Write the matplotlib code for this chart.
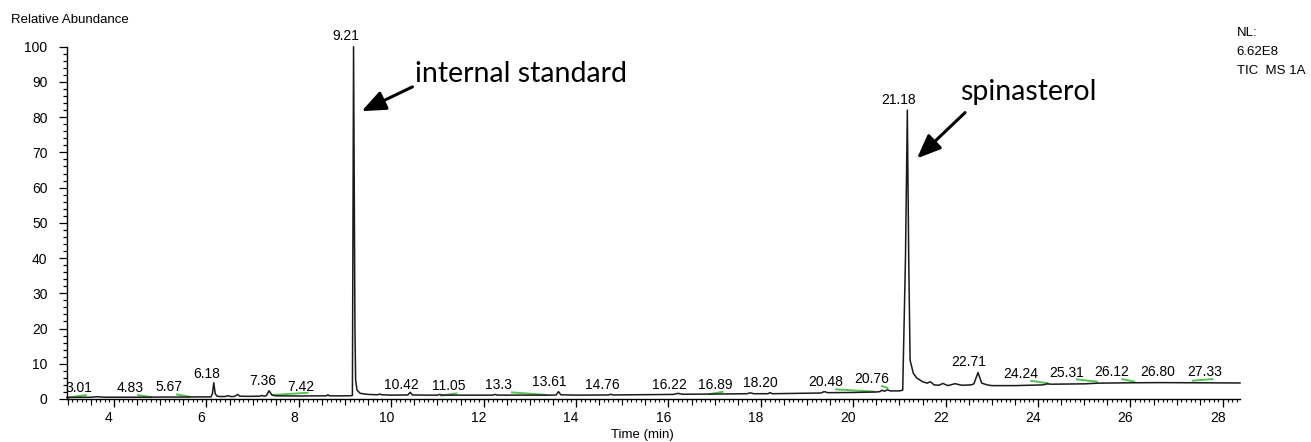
import matplotlib
matplotlib.use("Agg")
import matplotlib.pyplot as plt
import matplotlib.transforms as mtransforms
from matplotlib.ticker import MultipleLocator, NullFormatter

plt.rcParams['font.family'] = ['Liberation Sans', 'DejaVu Sans']

# TIC trace (time in min, relative abundance in %)
trace_t = [2.98, 3.5, 3.63, 3.8, 4.5, 5.0, 5.5, 5.8, 6.1, 6.13, 6.16, 6.19, 6.23,
           6.3, 6.4, 6.47, 6.52, 6.6, 6.68, 6.72, 6.9, 7.15, 7.2, 7.25, 7.3, 7.355,
           7.42, 7.5, 8.0, 8.5, 8.6, 8.63, 8.66, 9.1, 9.16, 9.185, 9.215, 9.23,
           9.26, 9.33, 9.5, 9.7, 9.75, 9.8, 10.0, 10.36, 10.41, 10.46, 10.8, 11.0,
           11.05, 11.1, 12.2, 12.25, 12.3, 13.5, 13.57, 13.62, 13.67, 14.0, 14.7,
           14.75, 14.8, 16.1, 16.21, 16.3, 17.0, 17.7, 17.77, 17.85, 18.15, 18.2,
           18.25, 19.3, 19.37, 19.45, 20.0, 20.5, 20.58, 20.62, 20.67, 20.74, 20.8,
           21.0, 21.07, 21.13, 21.17, 21.2, 21.23, 21.3, 21.37, 21.5, 21.6, 21.67,
           21.75, 21.85, 21.94, 22.05, 22.2, 22.35, 22.55, 22.61, 22.70, 22.78,
           22.9, 23.0, 23.5, 24.1, 24.2, 24.3, 25.0, 25.3, 26.0, 26.6, 27.5, 28.37]
trace_a = [0.45, 0.5, 0.65, 0.5, 0.5, 0.55, 0.55, 0.6, 0.6, 1.5, 4.6, 1.5, 0.8,
           0.7, 0.7, 0.95, 0.7, 0.7, 1.3, 0.8, 0.75, 0.8, 1.0, 0.8, 0.95, 2.35,
           1.1, 0.9, 0.85, 0.9, 0.9, 1.2, 0.9, 0.9, 1.0, 100, 20, 5.4,
           2.5, 1.6, 1.3, 1.2, 1.4, 1.2, 1.1, 1.15, 1.9, 1.15, 1.1, 1.1,
           1.3, 1.1, 1.1, 1.3, 1.1, 1.1, 1.15, 2.1, 1.2, 1.1, 1.15,
           1.35, 1.15, 1.3, 1.6, 1.35, 1.4, 1.5, 1.75, 1.5, 1.5, 1.8,
           1.5, 1.7, 2.1, 1.8, 1.85, 2.0, 2.1, 2.5, 2.2, 2.6, 2.3,
           2.3, 2.5, 40, 82, 40, 11, 7.3, 6.0, 4.9, 4.5, 4.9,
           4.0, 3.9, 4.4, 3.8, 4.35, 3.9, 4.0, 4.3, 7.5, 4.5,
           4.0, 3.8, 3.8, 4.0, 4.3, 4.2, 4.3, 4.5, 4.6, 4.65, 4.6, 4.55]

# peak labels (text, where it sits in axis units)
label_text = ['3.01', '4.83', '5.67', '6.18', '7.36', '7.42', '9.21', '10.42',
              '11.05', '13.3', '13.61', '14.76', '16.22', '16.89', '18.20',
              '20.48', '20.76', '21.18', '22.71', '24.24', '25.31', '26.12',
              '26.80', '27.33']
label_t = [3.24, 4.35, 5.19, 6.01, 7.21, 8.05, 9.02, 10.23, 11.25, 12.32, 13.42,
           14.57, 16.02, 17.02, 18.0, 19.40, 20.40, 20.99, 22.49, 23.63, 24.62,
           25.59, 26.59, 27.61]
label_a = [3.0, 3.0, 3.3, 7.2, 5.1, 3.5, 102.9, 4.0, 3.7, 3.9, 4.8, 3.9, 3.9,
           3.9, 4.5, 4.8, 5.6, 84.8, 10.4, 7.1, 7.5, 7.7, 7.7, 7.7]

# green integration baselines
base_t0 = [2.98, 4.50, 5.34, 7.41, 11.06, 12.59, 16.86, 19.61, 20.60, 23.83, 24.82, 25.80, 27.33]
base_a0 = [0.37, 1.13, 1.33, 1.13, 0.94, 1.90, 1.33, 2.75, 3.77, 5.19, 5.59, 5.67, 5.19]
base_t1 = [3.41, 4.82, 5.66, 8.21, 11.43, 13.38, 17.19, 20.47, 20.76, 24.22, 25.29, 26.10, 27.79]
base_a1 = [1.13, 0.48, 0.57, 1.79, 1.62, 1.13, 2.07, 2.07, 3.03, 4.45, 4.90, 4.90, 5.67]

fig = plt.figure(figsize=(13.11, 4.42), dpi=100)
ax = fig.add_axes([67 / 1311, 1 - 399 / 442, (1240 - 67) / 1311, (399 - 46.7) / 442])

for t0, a0, t1, a1 in zip(base_t0, base_a0, base_t1, base_a1):
    ax.plot([t0, t1], [a0, a1], color='#55c255', lw=1.4, solid_capstyle='butt')
ax.plot(trace_t, trace_a, color='#1a1a1a', lw=1.1, clip_on=False)

for txt, t, a in zip(label_text, label_t, label_a):
    ax.text(t, a, txt, ha='center', va='center', fontsize=10, clip_on=False)

ax.set_xlim(2.983, 28.37)
ax.set_ylim(0, 100)
for s in ['top', 'right']:
    ax.spines[s].set_visible(False)
for s in ['left', 'bottom']:
    ax.spines[s].set_linewidth(1.0)

ax.xaxis.set_major_locator(MultipleLocator(2))
ax.xaxis.set_minor_locator(MultipleLocator(0.1))
ax.yaxis.set_major_locator(MultipleLocator(10))
ax.yaxis.set_minor_locator(MultipleLocator(2))
ax.tick_params(axis='y', which='major', length=6, width=0.9, pad=8, labelsize=10)
ax.tick_params(axis='y', which='minor', length=3, width=0.9)
ax.tick_params(axis='x', which='major', length=6, width=0.9, pad=3, labelsize=10)
ax.tick_params(axis='x', which='minor', length=2.5, width=0.8)

# half-minute ticks in between
sec = ax.secondary_xaxis('bottom')
sec.xaxis.set_major_locator(MultipleLocator(0.5))
sec.xaxis.set_major_formatter(NullFormatter())
sec.tick_params(length=4, width=0.8)
sec.spines['bottom'].set_visible(False)

# tick labels sit a little left of their ticks
shift = mtransforms.ScaledTranslation(-5 / 100, 0, fig.dpi_scale_trans)
for lab in ax.get_xticklabels():
    lab.set_transform(lab.get_transform() + shift)

fig.text(10.7 / 1311, 1 - 20 / 442, 'Relative Abundance', ha='left', va='center', fontsize=9.5)
fig.text(642 / 1311, 1 - 435 / 442, 'Time (min)', ha='center', va='center', fontsize=9.5)
fig.text(1236.7 / 1311, 1 - 33.3 / 442, 'NL:', ha='left', va='center', fontsize=9.5)
fig.text(1236.7 / 1311, 1 - 51.7 / 442, '6.62E8', ha='left', va='center', fontsize=9.5)
fig.text(1236.7 / 1311, 1 - 70.7 / 442, 'TIC  MS 1A', ha='left', va='center', fontsize=9.5)

arrow = dict(arrowstyle='-|>,head_length=1.45,head_width=0.6', color='black', lw=2.2,
             shrinkA=0, shrinkB=0)
note_font = ['Lato', 'DejaVu Sans']
ax.text(10.52, 92.2, 'internal standard', fontsize=20.5, family=note_font,
        ha='left', va='center')
ax.annotate('', xy=(9.36, 81.7), xytext=(10.46, 88.6), arrowprops=arrow)
ax.text(22.30, 87.2, 'spinasterol', fontsize=20.5, family=note_font,
        ha='left', va='center')
ax.annotate('', xy=(21.38, 68.3), xytext=(22.42, 81.3), arrowprops=arrow)

fig.savefig('out.png', dpi=100)
